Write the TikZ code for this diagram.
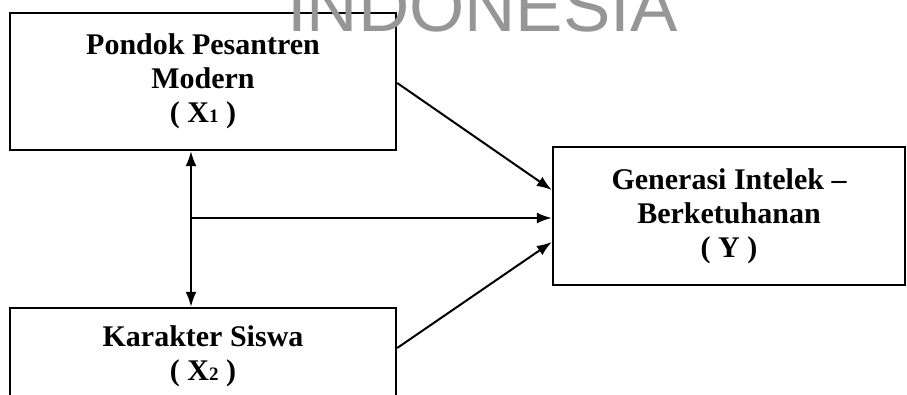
\documentclass[tikz,border=0pt]{standalone}
\usepackage{fontspec}
\setmainfont{Liberation Serif}
\newfontfamily\wmfont{Liberation Sans}
\usetikzlibrary{arrows.meta,calc}
\newcommand\subdig[1]{{\fontsize{19}{19}\selectfont #1}}
\begin{document}
\begin{tikzpicture}[x=1pt,y=-1pt,
  >={Latex[length=15pt,width=11pt]},
  box/.style={draw, line width=2.4pt, inner sep=0pt, align=center,
    font=\fontsize{30}{34}\selectfont\bfseries},
  conn/.style={line width=2pt},
  wm/.style={inner sep=0pt, anchor=base west, text={rgb,255:red,150;green,150;blue,150},
    font=\fontsize{71}{71}\selectfont\wmfont}]
\clip (0,0) rectangle (907,395);
\fill[white] (0,0) rectangle (907,395);
\node[box, minimum width=386pt, minimum height=137pt] (x1) at (203,81.5)
  {Pondok Pesantren\\Modern\\( X\subdig{1} )};
\node[box, minimum width=386pt, minimum height=96pt] (x2) at (203,356)
  {Karakter Siswa\\( X\subdig{2} )};
\node[box, minimum width=352pt, minimum height=138pt] (y) at (729,216)
  {Generasi Intelek --\\Berketuhanan\\( Y )};
\coordinate (vx) at (191,0);
\coordinate (hs) at (191,218);
\draw[conn,<->] (x1.south -| vx) -- (x2.north -| vx);
\draw[conn,->] (hs) -- (y.west |- hs);
\draw[conn,->] ($(x1.east)+(0,1.5)$) -- ($(y.west)+(0,-26)$);
\draw[conn,->] ($(x2.east)+(0,-8)$) -- ($(y.west)+(0,26)$);
\node[wm] (wmk) at (287,32) {INDONESIA};
\end{tikzpicture}
\end{document}
